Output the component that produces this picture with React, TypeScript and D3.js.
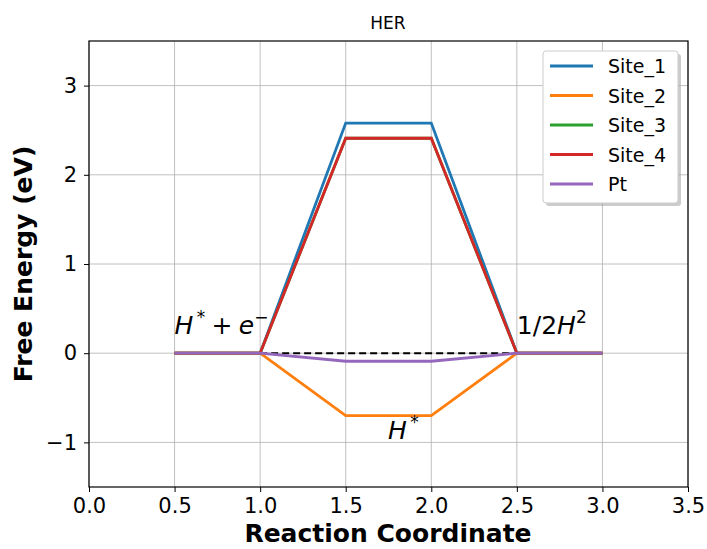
import React, { useEffect, useRef } from 'react';
import * as d3 from 'd3';

const steps = [0.5, 1.0, 1.5, 2.0, 2.5, 3.0];
const site1 = [0, 0, 2.58, 2.58, 0, 0];
const site2 = [0, 0, -0.7, -0.7, 0, 0];
const site3 = [0, 0, 2.41, 2.41, 0, 0];
const site4 = [0, 0, 2.41, 2.41, 0, 0];
const pt = [0, 0, -0.09, -0.09, 0, 0];
const seriesNames = ['Site_1', 'Site_2', 'Site_3', 'Site_4', 'Pt'];
const seriesColors = ['#1f77b4', '#ff7f0e', '#2ca02c', '#d62728', '#9467bd'];
const xTicks = [0, 0.5, 1, 1.5, 2, 2.5, 3, 3.5];
const yTicks = [-1, 0, 1, 2, 3];
const refLine = [1.0, 2.5];

const W = 707;
const H = 549;
const margin = { top: 41, right: 19, bottom: 62, left: 89 };

export default function App() {
  const ref = useRef<SVGSVGElement>(null);

  useEffect(() => {
    const svg = d3.select(ref.current);
    svg.selectAll('*').remove();
    const font = 'DejaVu Sans, sans-serif';
    const x = d3.scaleLinear().domain([0, 3.5]).range([margin.left, W - margin.right]);
    const y = d3.scaleLinear().domain([-1.5, 3.5]).range([H - margin.bottom, margin.top]);

    svg.append('rect').attr('width', W).attr('height', H).attr('fill', '#fff');

    // grid
    const grid = svg.append('g').attr('stroke', '#b0b0b0').attr('stroke-width', 0.8);
    xTicks.forEach(t => grid.append('line')
      .attr('x1', x(t)).attr('x2', x(t)).attr('y1', y(-1.5)).attr('y2', y(3.5)));
    yTicks.forEach(t => grid.append('line')
      .attr('x1', x(0)).attr('x2', x(3.5)).attr('y1', y(t)).attr('y2', y(t)));

    const all = [site1, site2, site3, site4, pt];
    const line = d3.line<number>().x((d, i) => x(steps[i])).y(d => y(d));

    // dashed reference at zero
    svg.append('line')
      .attr('x1', x(refLine[0])).attr('x2', x(refLine[1]))
      .attr('y1', y(0)).attr('y2', y(0))
      .attr('stroke', '#000').attr('stroke-width', 2)
      .attr('stroke-dasharray', '7,4');

    all.forEach((s, i) => {
      svg.append('path').datum(s)
        .attr('d', line)
        .attr('fill', 'none')
        .attr('stroke', seriesColors[i])
        .attr('stroke-width', 2.8)
        .attr('stroke-linejoin', 'miter');
    });

    // frame
    svg.append('rect')
      .attr('x', x(0)).attr('y', y(3.5))
      .attr('width', x(3.5) - x(0)).attr('height', y(-1.5) - y(3.5))
      .attr('fill', 'none').attr('stroke', '#000').attr('stroke-width', 1.2);

    const xAxis = svg.append('g')
      .attr('transform', `translate(0,${y(-1.5)})`)
      .call(d3.axisBottom(x).tickValues(xTicks).tickFormat(d3.format('.1f')).tickSizeOuter(0).tickSize(5).tickPadding(6));
    const yAxis = svg.append('g')
      .attr('transform', `translate(${x(0)},0)`)
      .call(d3.axisLeft(y).tickValues(yTicks).tickFormat(d => d3.format('d')(d as number).replace('-', '\u2212')).tickSizeOuter(0).tickSize(5).tickPadding(7));
    [xAxis, yAxis].forEach(a => {
      a.select('.domain').remove();
      a.selectAll('text').attr('font-family', font).attr('font-size', 21).attr('fill', '#000');
      a.selectAll('line').attr('stroke', '#000').attr('stroke-width', 1);
    });

    svg.append('text').attr('x', 388).attr('y', 29).attr('text-anchor', 'middle')
      .attr('font-family', font).attr('font-size', 17).text('HER');

    svg.append('text').attr('x', 388).attr('y', 542).attr('text-anchor', 'middle')
      .attr('font-family', font).attr('font-size', 25).attr('font-weight', 'bold').text('Reaction Coordinate');
    svg.append('text').attr('transform', `translate(32,${(y(-1.5) + y(3.5)) / 2}) rotate(-90)`)
      .attr('text-anchor', 'middle')
      .attr('font-family', font).attr('font-size', 25).attr('font-weight', 'bold').text('Free Energy (eV)');

    // math annotations
    const ann = (tx: number, ty: number, parts: [string, boolean, boolean][]) => {
      const t = svg.append('text').attr('x', tx).attr('y', ty)
        .attr('font-family', font).attr('font-size', 25).attr('fill', '#000')
        .style('white-space', 'pre');
      let up = false;
      parts.forEach(([s, italic, sup]) => {
        let dy = 0;
        if (sup && !up) { dy = -11; up = true; }
        else if (!sup && up) { dy = 11; up = false; }
        t.append('tspan')
          .attr('font-style', italic ? 'oblique' : 'normal')
          .attr('font-size', sup ? 17 : 25)
          .attr('dy', dy)
          .text(s);
      });
    };
    ann(x(0.5), y(0) - 19, [['H', true, false], ['\u2009*', false, true], ['\u2005+\u2005', false, false], ['e', true, false], ['\u2212', false, true]]);
    ann(x(2.5), y(0) - 19, [['1/2', false, false], ['H', true, false], ['2', false, true]]);
    ann(388, 439, [['H', true, false], ['\u2009*', false, true]]);

    // legend
    const lg = svg.append('g').attr('transform', 'translate(543,51)');
    lg.append('rect').attr('x', 3).attr('y', 3).attr('width', 135).attr('height', 152)
      .attr('rx', 3).attr('fill', '#999').attr('opacity', 0.5);
    lg.append('rect').attr('width', 135).attr('height', 152).attr('rx', 3)
      .attr('fill', '#fff').attr('stroke', '#ccc').attr('stroke-width', 1);
    seriesNames.forEach((n, i) => {
      const yy = 15 + i * 29.5;
      lg.append('line').attr('x1', 7).attr('x2', 50).attr('y1', yy).attr('y2', yy)
        .attr('stroke', seriesColors[i]).attr('stroke-width', 2.8);
      lg.append('text').attr('x', 65).attr('y', yy + 7).attr('font-family', font)
        .attr('font-size', 19).attr('fill', '#000').text(n);
    });
  }, []);

  return <svg ref={ref} width={W} height={H} style={{ display: 'block', position: 'absolute', left: 0, top: 0 }} />;
}
